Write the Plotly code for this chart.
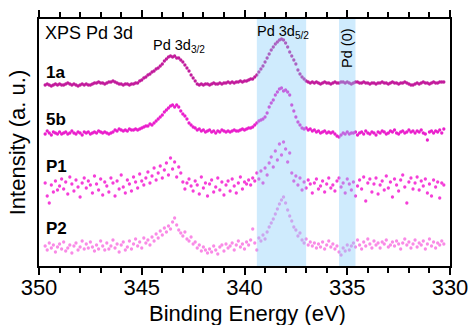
import numpy as np
import plotly.graph_objects as go

# Binding-energy grid of the scans: 349.7 eV down to 330.3 eV in 0.1 eV steps
E_START = 349.7
E_STEP = 0.1

# Background-subtracted Pd 3d intensities (a. u.), one row = 10 points (1 eV)
sample_1a = [
    0, 1, 0, -1, 0, 1, 0, 1, 0, 0,            # 349.7
    1, 2, 1, 0, 1, 0, -1, 0, 1, 0,            # 348.7
    1, 0, 0, 1, 2, 2, 3, 2, 2, 1,             # 347.7
    2, 3, 3, 4, 3, 2, 1, 1, 0, 1,             # 346.7
    1, 0, 1, 1, 2, 2, 4, 5, 7, 8,             # 345.7
    10, 11, 13, 14, 16, 17, 19, 21, 24, 26,   # 344.7
    28, 29, 28, 29, 27, 27, 25, 23, 20, 17,   # 343.7
    14, 10, 7, 4, 1, 0, 1, 0, 1, 1,           # 342.7
    0, 1, 2, 1, 1, 2, 1, 2, 2, 3,             # 341.7
    2, 3, 2, 3, 3, 4, 3, 4, 4, 5,             # 340.7
    6, 6, 8, 10, 13, 16, 19, 23, 27, 31,      # 339.7
    35, 38, 41, 43, 45, 46, 45, 42, 38, 33,   # 338.7
    29, 25, 21, 15, 11, 8, 6, 4, 3, 2,        # 337.7
    3, 2, 3, 2, 1, 2, 3, 2, 2, 1,             # 336.7
    2, 3, 2, 2, 3, 3, 2, 3, 2, 1,             # 335.7
    2, 3, 3, 2, 2, 3, 2, 2, 1, 2,             # 334.7
    2, 1, 2, 2, 3, 2, 2, 1, 2, 3,             # 333.7
    2, 2, 1, 2, 2, 3, 2, 1, 0, 0,             # 332.7
    1, 2, 1, 2, 3, 2, 2, 1, 2, 3,             # 331.7
    2, 2, 3, 3, 3,                            # 330.7
]

sample_5b = [
    -1, 2, 0, -2, 1, 0, -1, 1, -1, 0,         # 349.7
    1, -1, 0, 2, 0, -1, 1, 0, -2, 1,          # 348.7
    0, 1, -1, 0, 1, 0, 2, 1, 0, 1,            # 347.7
    0, -1, 0, 1, 3, 2, 4, 3, 2, 3,            # 346.7
    2, 4, 3, 3, 4, 3, 4, 5, 6, 7,             # 345.7
    7, 9, 8, 10, 12, 14, 16, 18, 21, 23,      # 344.7
    25, 27, 28, 26, 28, 26, 22, 19, 17, 14,   # 343.7
    10, 8, 6, 5, 3, 4, 2, 3, 1, 2,            # 342.7
    3, 1, 2, 0, 2, 1, 3, 2, 1, 2,             # 341.7
    1, 2, 3, 2, 2, 3, 4, 3, 4, 5,             # 340.7
    5, 6, 8, 10, 12, 13, 14, 16, 20, 26,      # 339.7
    30, 33, 38, 41, 44, 45, 42, 43, 41, 38,   # 338.7
    28, 22, 16, 11, 8, 5, 4, 5, 3, 4,         # 337.7
    2, 3, 1, 2, 0, 1, 2, 0, 1, 0,             # 336.7
    1, -1, -3, -4, -2, 0, -1, 1, -1, 0,       # 335.7
    0, 1, -2, 0, 1, -1, 2, 0, -1, 1,          # 334.7
    0, -2, 1, 0, 2, 1, -1, 0, 2, 1,           # 333.7
    3, 0, -1, 1, 2, 0, 1, 3, 1, 2,            # 332.7
    0, 2, 1, 3, 0, -1, -7, 1, 2, 0,           # 331.7
    2, 1, 3, 0, 4,                            # 330.7
]

sample_P1 = [
    4, -9, -16, 2, -5, 6, -3, 1, 8, -2,       # 349.7
    5, -7, 10, 3, -4, 7, 0, -10, 4, 9,        # 348.7
    -1, 6, 2, -6, 11, 3, -3, 8, -8, 5,        # 347.7
    1, -5, 9, 4, -9, 6, -2, 12, 0, -6,        # 346.7
    7, 3, -4, 10, 5, -1, 13, 6, 2, 9,         # 345.7
    15, 4, 11, 19, 7, 14, 21, 9, 17, 24,      # 344.7
    12, 29, 18, 25, 10, 20, 14, 5, -2, 4,     # 343.7
    8, 1, -4, 6, 2, -7, 10, -1, 4, -9,        # 342.7
    3, 7, -5, 0, 9, -3, 5, -8, 2, 6,          # 341.7
    -4, 8, 1, -6, 4, 10, -2, 5, 3, 7,         # 340.7
    2, 9, 6, 14, 8, 16, 4, 19, 12, 24,        # 339.7
    30, 20, 36, 27, 43, 32, 45, 38, 25, 34,   # 338.7
    14, 6, 11, 2, 9, -3, 5, -1, 7, 3,         # 337.7
    -6, 4, 8, -2, 1, 6, -5, 3, 9, -1,         # 336.7
    2, -4, 6, 9, 0, 4, -6, 8, 3, -3,          # 335.7
    5, -9, 1, 7, -2, 10, -14, 4, 8, -5,       # 334.7
    3, 9, -7, 2, 6, -3, 11, -1, 5, -10,       # 333.7
    8, 2, -4, 7, 12, 0, -16, 5, 9, -2,        # 332.7
    4, 10, -3, 6, 1, 8, -6, 3, -9, 7,         # 331.7
    0, 5, -11, 4, 2,                          # 330.7
]

sample_P2 = [
    1, -3, 4, -1, 2, -5, 0, 3, -2, 5,         # 349.7
    -4, -1, 2, -6, 1, 4, -3, 0, 6, -2,        # 348.7
    3, -1, 5, 0, -4, 2, -2, 6, 1, -3,         # 347.7
    4, -2, 1, 7, -1, 3, -5, 2, 5, -3,         # 346.7
    0, 6, -2, 3, 8, 1, 5, -1, 9, 4,           # 345.7
    7, 2, 10, 6, 13, 9, 16, 12, 19, 15,       # 344.7
    21, 18, 25, 29, 22, 17, 14, 11, 15, 8,    # 343.7
    6, 10, 3, 5, -1, 2, -4, 0, -3, -6,        # 342.7
    -2, -5, 1, -3, -7, 0, 2, -4, 3, -1,       # 341.7
    1, 4, -3, 2, 6, 0, 3, -2, 5, 2,           # 340.7
    7, 18, 4, -3, 9, 6, 12, 8, 15, 20,        # 339.7
    24, 28, 33, 38, 43, 47, 50, 44, 37, 31,   # 338.7
    26, 20, 17, 11, 14, 7, 4, 8, 2, 5,        # 337.7
    1, 4, -1, 3, 0, 5, -2, 2, 6, 0,           # 336.7
    3, -2, 1, -5, -8, -1, -4, 2, -3, 1,       # 335.7
    4, 0, 7, 2, -2, 5, 1, 8, 3, -1,           # 334.7
    6, 2, 4, -1, 5, 3, 7, 0, 2, 5,            # 333.7
    1, 6, 3, -2, 4, 8, 2, 5, -1, 3,           # 332.7
    7, 0, 4, 2, 6, -2, 3, 8, 1, 5,            # 331.7
    -1, 4, 2, 6, 3,                           # 330.7
]

sample_names = ["1a", "5b", "P1", "P2"]
sample_data = [sample_1a, sample_5b, sample_P1, sample_P2]
stack_offsets = [181, 133, 79, 19]
sample_colors = ["#c21c9c", "#ea1fcc", "#f53ed8", "#f98ae6"]
label_y = [194, 147, 100, 37.5]

x_ticks = [350, 345, 340, 335, 330]
x_range = [350, 330]
y_range = [0, 247]

# Reference energy windows (eV)
band_pd3d52 = (339.4, 337.0)
band_pd0 = (335.4, 334.6)

FONT = "Liberation Sans, Arial, sans-serif"

fig = go.Figure()

for name, vals, off, col in zip(sample_names, sample_data, stack_offsets, sample_colors):
    v = np.asarray(vals, dtype=float)
    energy = np.round(E_START - E_STEP * np.arange(len(v)), 2)
    fig.add_trace(go.Scatter(
        x=energy, y=v + off, mode="markers", name=name,
        marker=dict(color=col, size=3.3, line=dict(width=0)),
        showlegend=False,
    ))

for x0, x1 in (band_pd3d52, band_pd0):
    fig.add_shape(type="rect", xref="x", yref="paper", x0=x0, x1=x1, y0=0, y1=1,
                  fillcolor="#87cefa", opacity=0.4, line=dict(width=0), layer="above")

for name, yl in zip(sample_names, label_y):
    fig.add_annotation(x=349.78, y=yl, text=f"<b>{name}</b>", showarrow=False,
                       xanchor="left", yanchor="middle",
                       font=dict(family=FONT, size=17, color="black"))

fig.add_annotation(x=349.8, y=233, text="XPS Pd 3d", showarrow=False,
                   xanchor="left", yanchor="middle",
                   font=dict(family=FONT, size=18, color="black"))
fig.add_annotation(x=343.2, y=220.5, text="Pd 3d<sub>3/2</sub>", showarrow=False,
                   xanchor="center", yanchor="middle",
                   font=dict(family=FONT, size=14.5, color="black"))
fig.add_annotation(x=338.15, y=234, text="Pd 3d<sub>5/2</sub>", showarrow=False,
                   xanchor="center", yanchor="middle",
                   font=dict(family=FONT, size=14.5, color="black"))
fig.add_annotation(x=335.04, y=218.5, text="Pd (0)", showarrow=False, textangle=-90,
                   xanchor="center", yanchor="middle",
                   font=dict(family=FONT, size=14.5, color="black"))

# x-axis title, set low so it sits right at the page's lower edge
fig.add_annotation(xref="paper", yref="paper", x=0.508, y=-0.194,
                   text="Binding Energy (eV)", showarrow=False,
                   xanchor="center", yanchor="middle",
                   font=dict(family=FONT, size=22, color="black"))

fig.update_xaxes(
    range=x_range, tickmode="array", tickvals=x_ticks,
    ticks="outside", ticklen=7, tickwidth=1.5, tickcolor="black",
    minor=dict(dtick=1, ticks="outside", ticklen=5, tickwidth=1.5, tickcolor="black"),
    showline=True, linewidth=1.5, linecolor="black", mirror="allticks",
    showgrid=False, zeroline=False, automargin=False,
    ticklabelstandoff=-6,
    tickfont=dict(family=FONT, size=22, color="black"),
)
fig.update_yaxes(
    range=y_range, showticklabels=False, ticks="",
    showline=True, linewidth=1.5, linecolor="black", mirror=True,
    showgrid=False, zeroline=False, automargin=False,
    title=dict(text="Intensity (a. u.)", font=dict(family=FONT, size=22, color="black"),
               standoff=6),
)

fig.update_layout(
    width=473, height=325,
    margin=dict(l=39, r=23, t=19, b=59, autoexpand=False),
    plot_bgcolor="white", paper_bgcolor="white",
)

fig.write_html("out.html")
